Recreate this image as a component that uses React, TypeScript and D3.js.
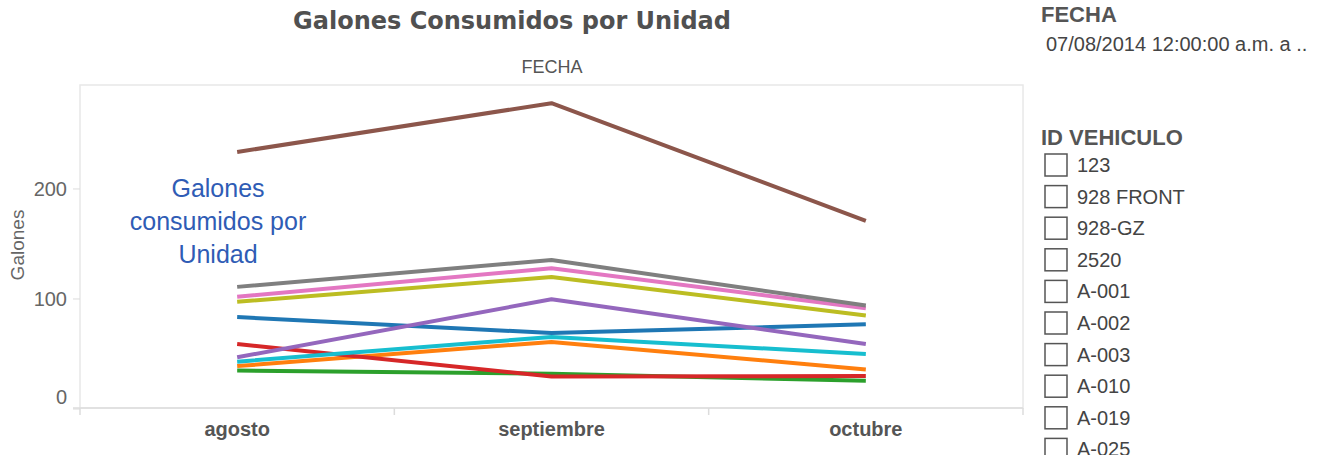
import React from "react";
import * as d3 from "d3";

const months = ["agosto", "septiembre", "octubre"];
const vehicleIds = ["123", "928 FRONT", "928-GZ", "2520", "A-001", "A-002", "A-003", "A-010", "A-019", "A-025"];
const filterItems = ["123", "928 FRONT", "928-GZ", "2520", "A-001", "A-002", "A-003", "A-010", "A-019", "A-025"];
const colors = ["#1f77b4", "#ff7f0e", "#2ca02c", "#d62728", "#9467bd", "#8c564b", "#e377c2", "#7f7f7f", "#bcbd22", "#17becf"];

const s123 = [83.6, 69, 77];
const s928front = [39, 61, 36];
const s928gz = [35, 32, 25.7];
const s2520 = [59, 29.5, 30];
const sA001 = [47, 99.7, 59];
const sA002 = [233.6, 278, 171];
const sA003 = [102, 128, 91.5];
const sA010 = [111, 135.5, 94];
const sA019 = [97.5, 120, 85];
const sA025 = [43, 65.5, 50];
const seriesValues = [s123, s928front, s928gz, s2520, sA001, sA002, sA003, sA010, sA019, sA025];
const yTicks = [0, 100, 200];

export default function App() {
  const W = 1332, H = 461;
  const left = 80, right = 1023, top = 85, bottom = 408;
  const x = d3.scaleBand().domain(months).range([left, right]).padding(0);
  const y = d3.scaleLinear().domain([0, 294.5]).range([409, top]);
  const line = d3.line<number>()
    .x((_, i) => (x(months[i]) as number) + x.bandwidth() / 2)
    .y((v) => y(v));
  const order = [0, 1, 2, 3, 4, 9, 8, 6, 7, 5];
  const sans = "'Liberation Sans', Arial, sans-serif";
  const boundaries = [left, ...months.map((m) => (x(m) as number) + x.bandwidth())];
  return (
    <svg width={W} height={H} style={{ position: "absolute", left: 0, top: 0, background: "#fff" }}>
      <text x={512} y={29} textAnchor="middle" fontFamily="'DejaVu Sans', sans-serif" fontWeight="bold" fontSize={24} fill="#505050">
        Galones Consumidos por Unidad
      </text>
      <text x={552} y={73} textAnchor="middle" fontFamily={sans} fontSize={18} fill="#555">FECHA</text>
      <rect x={left} y={top} width={right - left} height={bottom - top} fill="none" stroke="#e8e8e8" strokeWidth={1.5} />
      <line x1={73} x2={right} y1={bottom} y2={bottom} stroke="#dcdcdc" strokeWidth={1.5} />
      {boundaries.map((b, i) => (
        <line key={i} x1={b} x2={b} y1={bottom} y2={bottom + 7} stroke="#dcdcdc" strokeWidth={1.5} />
      ))}
      {yTicks.map((t) => (
        <g key={t}>
          <line x1={73} x2={left} y1={y(t)} y2={y(t)} stroke="#dcdcdc" strokeWidth={1} />
          <text x={67} y={t === 0 ? 397 : y(t)} dy="0.35em" textAnchor="end" fontFamily={sans} fontSize={20} fill="#666">{t}</text>
        </g>
      ))}
      <text transform="translate(24,245) rotate(-90)" textAnchor="middle" fontFamily={sans} fontSize={19} fill="#666">Galones</text>
      {months.map((m) => (
        <text key={m} x={(x(m) as number) + x.bandwidth() / 2} y={436} textAnchor="middle" fontFamily={sans} fontWeight="bold" fontSize={20} fill="#555">{m}</text>
      ))}
      {order.map((i) => (
        <path key={vehicleIds[i]} d={line(seriesValues[i]) as string} fill="none" stroke={colors[i]} strokeWidth={4} strokeLinejoin="round" />
      ))}
      <g fontFamily={sans} fontSize={25} fill="#2f5cb5" textAnchor="middle">
        <text x={218} y={197}>Galones</text>
        <text x={218} y={230}>consumidos por</text>
        <text x={218} y={263}>Unidad</text>
      </g>
      <text x={1041} y={22} fontFamily={sans} fontWeight="bold" fontSize={22} fill="#555">FECHA</text>
      <text x={1046} y={51} fontFamily={sans} fontSize={20} fill="#444">07/08/2014 12:00:00 a.m. a ..</text>
      <text x={1041} y={145} fontFamily={sans} fontWeight="bold" fontSize={22} fill="#555">ID VEHICULO</text>
      <defs>
        <clipPath id="cardClip"><rect x={1030} y={150} width={300} height={305} /></clipPath>
      </defs>
      <g clipPath="url(#cardClip)">
        {filterItems.map((it, i) => (
          <g key={it} transform={`translate(0,${165 + i * 31.6})`}>
            <rect x={1045} y={-11} width={22} height={22} fill="#fff" stroke="#555" strokeWidth={1.5} />
            <text x={1077} y={0} dy="0.35em" fontFamily={sans} fontSize={20} fill="#444">{it}</text>
          </g>
        ))}
      </g>
    </svg>
  );
}
